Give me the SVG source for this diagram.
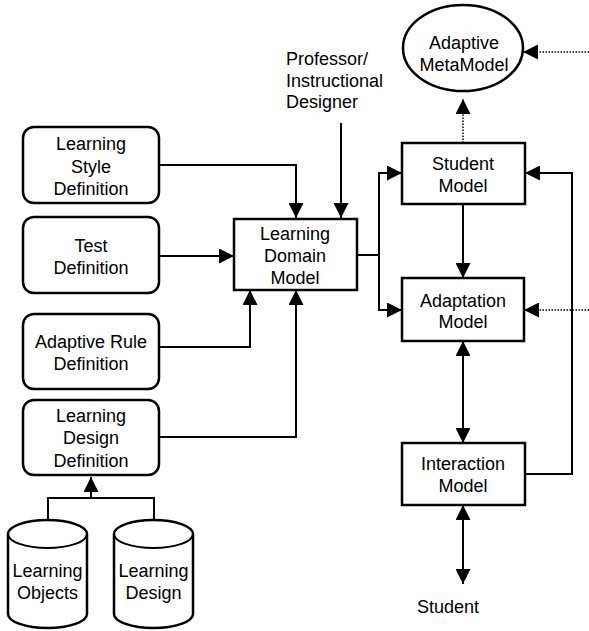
<svg xmlns="http://www.w3.org/2000/svg" width="589" height="631" viewBox="0 0 589 631">
<defs>
<marker id="ah" markerUnits="userSpaceOnUse" markerWidth="15" markerHeight="15" refX="15" refY="7.5" orient="auto-start-reverse" viewBox="0 0 15 15"><path d="M0,0 L15,7.5 L0,15 z" fill="#000"/></marker>
<style>
.t{font-family:"Liberation Sans",Arial,sans-serif;font-size:18px;fill:#000;text-anchor:middle}
.tl{text-anchor:start}
.box{fill:#fff;stroke:#000;stroke-width:2.5}
.ln{fill:none;stroke:#000;stroke-width:2}
.dot{fill:none;stroke:#000;stroke-width:1.5;stroke-dasharray:1.5 1.5}
</style>
</defs>
<rect width="589" height="631" fill="#fff"/>
<g id="connectors">
<path class="ln" d="M341,123 V218" marker-end="url(#ah)"/>
<path class="ln" d="M159,165 H296 V218" marker-end="url(#ah)"/>
<path class="ln" d="M159,256 H234" marker-end="url(#ah)"/>
<path class="ln" d="M159,347 H250 V290" marker-end="url(#ah)"/>
<path class="ln" d="M159,437 H296 V290" marker-end="url(#ah)"/>
<path class="ln" d="M357,255 H379"/>
<path class="ln" d="M379,255 V173 H402" marker-end="url(#ah)"/>
<path class="ln" d="M379,255 V310 H402" marker-end="url(#ah)"/>
<path class="ln" d="M463,204 V278" marker-end="url(#ah)"/>
<path class="ln" d="M463,341 V443" marker-start="url(#ah)" marker-end="url(#ah)"/>
<path class="ln" d="M463,505 V584" marker-start="url(#ah)" marker-end="url(#ah)"/>
<path class="ln" d="M525,474 H572 V173 H525" marker-end="url(#ah)"/>
<path class="dot" d="M589,310 H524" marker-end="url(#ah)"/>
<path class="dot" d="M589,52 H523" marker-end="url(#ah)"/>
<path class="dot" d="M463,143 V99" marker-end="url(#ah)"/>
<path class="ln" d="M48,520 V498 H154 V520"/>
<path class="ln" d="M91,498 V477" marker-end="url(#ah)"/>
</g>
<g id="adaptive-metamodel">
<ellipse class="box" cx="463" cy="48" rx="60" ry="43"/>
<text class="t" x="464" y="49">Adaptive</text>
<text class="t" x="464" y="71">MetaModel</text>
</g>
<g id="professor">
<text class="t tl" x="286" y="65">Professor/</text>
<text class="t tl" x="286" y="87">Instructional</text>
<text class="t tl" x="286" y="108">Designer</text>
</g>
<g id="learning-style-definition">
<rect class="box" x="23" y="127" width="136" height="76" rx="11"/>
<text class="t" x="91" y="150">Learning</text>
<text class="t" x="91" y="173">Style</text>
<text class="t" x="91" y="195">Definition</text>
</g>
<g id="test-definition">
<rect class="box" x="23" y="217" width="136" height="76" rx="11"/>
<text class="t" x="91" y="252">Test</text>
<text class="t" x="91" y="274">Definition</text>
</g>
<g id="adaptive-rule-definition">
<rect class="box" x="23" y="314" width="136" height="75" rx="11"/>
<text class="t" x="91" y="348">Adaptive Rule</text>
<text class="t" x="91" y="370">Definition</text>
</g>
<g id="learning-design-definition">
<rect class="box" x="23" y="400" width="136" height="75" rx="11"/>
<text class="t" x="91" y="422">Learning</text>
<text class="t" x="91" y="444">Design</text>
<text class="t" x="91" y="467">Definition</text>
</g>
<g id="learning-domain-model">
<rect class="box" x="234" y="219" width="123" height="71"/>
<text class="t" x="295" y="240">Learning</text>
<text class="t" x="295" y="262">Domain</text>
<text class="t" x="295" y="284">Model</text>
</g>
<g id="student-model">
<rect class="box" x="402" y="143" width="123" height="61"/>
<text class="t" x="463" y="170">Student</text>
<text class="t" x="463" y="192">Model</text>
</g>
<g id="adaptation-model">
<rect class="box" x="402" y="278" width="122" height="63"/>
<text class="t" x="463" y="307">Adaptation</text>
<text class="t" x="463" y="328">Model</text>
</g>
<g id="interaction-model">
<rect class="box" x="402" y="443" width="123" height="62"/>
<text class="t" x="463" y="470">Interaction</text>
<text class="t" x="463" y="492">Model</text>
</g>
<g id="student">
<text class="t" x="448" y="613">Student</text>
</g>
<g id="learning-objects">
<path class="box" d="M8,534 A39.5,14 0 0 1 87,534 V614 A39.5,14 0 0 1 8,614 Z"/>
<path class="ln" d="M8,534 A39.5,14 0 0 0 87,534"/>
<text class="t" x="47.5" y="577">Learning</text>
<text class="t" x="47.5" y="599">Objects</text>
</g>
<g id="learning-design">
<path class="box" d="M114,534 A39.5,14 0 0 1 193,534 V614 A39.5,14 0 0 1 114,614 Z"/>
<path class="ln" d="M114,534 A39.5,14 0 0 0 193,534"/>
<text class="t" x="153.5" y="577">Learning</text>
<text class="t" x="153.5" y="599">Design</text>
</g>
</svg>
